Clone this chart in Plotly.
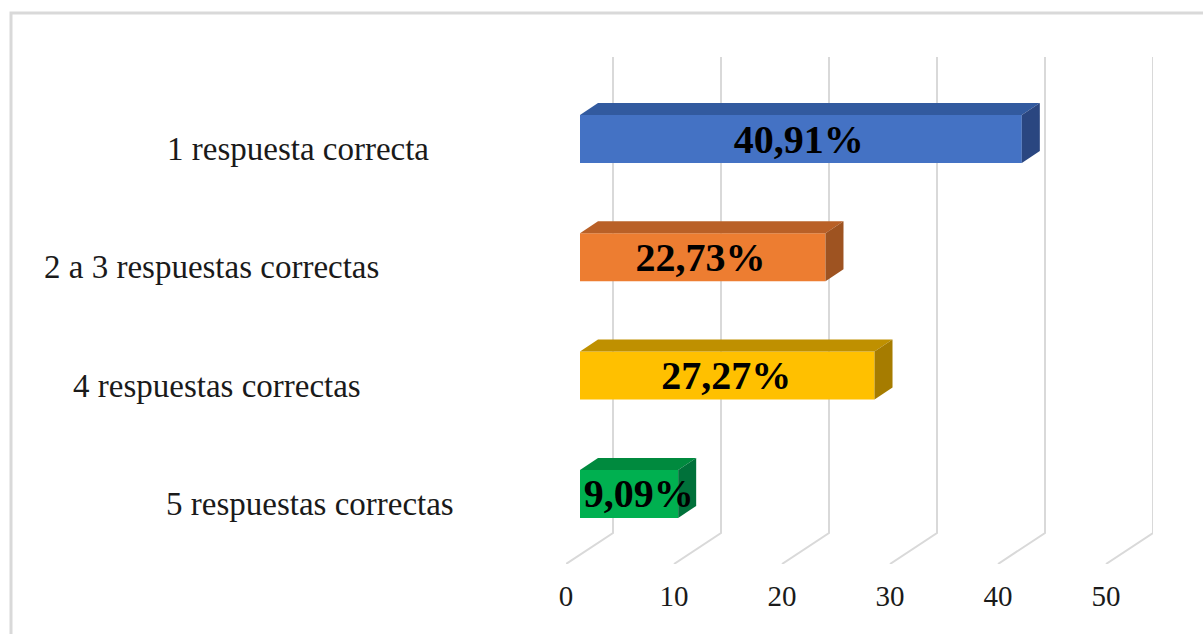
import plotly.graph_objects as go

categories = ["1 respuesta correcta", "2 a 3 respuestas correctas", "4 respuestas correctas", "5 respuestas correctas"]
values = [40.91, 22.73, 27.27, 9.09]
labels = ["40,91%", "22,73%", "27,27%", "9,09%"]
x_ticks = [0, 10, 20, 30, 40, 50]
front_colors = ["#4472C4", "#ED7D31", "#FFC000", "#00B050"]
top_colors = ["#325A9F", "#B96027", "#BF9000", "#008A3E"]
side_colors = ["#2A4680", "#9E5321", "#A67C00", "#00713A"]
category_label_px = [298, 211, 217, 310]
label_shift = [-0.2, -0.2, -0.1, 0.9]

W, H = 1203, 634
PL, PR, PT, PB = 566, 1153, 57, 564
SX = 10.8      # px per value unit
SY = 118.3     # px per category step
Y0 = 139       # px of first category
y_top = (PT - Y0) / SY
y_bot = (PB - Y0) / SY
base = 14 / SX
bw = 48 / SY
bar_dx, bar_dy = 18 / SX, 12 / SY
floor_dx, floor_dy = 47 / SX, 31 / SY
GRID = "#D9D9D9"
ypos = list(range(len(categories)))

fig = go.Figure()

for t in x_ticks:
    fig.add_shape(
        type="path", xref="x", yref="y", layer="below",
        path=f"M {t} {y_bot} L {t + floor_dx} {y_bot - floor_dy} L {t + floor_dx} {y_top}",
        line=dict(color=GRID, width=2))

for i, v in enumerate(values):
    f_top, f_bot = i - bw / 2, i + bw / 2
    x0, x1 = base, base + v
    fig.add_trace(go.Scatter(
        x=[x0, x0 + bar_dx, x1 + bar_dx, x1, x0],
        y=[f_top, f_top - bar_dy, f_top - bar_dy, f_top, f_top],
        fill="toself", fillcolor=top_colors[i], mode="lines", line=dict(width=0),
        hoverinfo="skip", showlegend=False))
    fig.add_trace(go.Scatter(
        x=[x1, x1 + bar_dx, x1 + bar_dx, x1, x1],
        y=[f_top, f_top - bar_dy, f_bot - bar_dy, f_bot, f_top],
        fill="toself", fillcolor=side_colors[i], mode="lines", line=dict(width=0),
        hoverinfo="skip", showlegend=False))

fig.add_trace(go.Bar(
    x=values, y=ypos, base=base, width=bw, orientation="h",
    marker=dict(color=front_colors, line=dict(width=0)),
    customdata=categories, hovertemplate="%{customdata}: %{x}<extra></extra>",
    showlegend=False))

fig.add_trace(go.Scatter(
    x=[base + v / 2 + s for v, s in zip(values, label_shift)], y=[p + 0.03 for p in ypos],
    text=labels, mode="text", textposition="middle center",
    textfont=dict(family="Liberation Serif", size=40, color="#000000", weight="bold"),
    hoverinfo="skip", showlegend=False, cliponaxis=False))

pw, ph = PR - PL, PB - PT
for i, c in enumerate(categories):
    fig.add_annotation(
        text=c, xref="paper", yref="y", x=(category_label_px[i] - PL) / pw, y=i + 0.085,
        xanchor="center", yanchor="middle", showarrow=False,
        font=dict(family="Liberation Serif", size=33, color="#1a1a1a"))

fx = lambda p: (p - PL) / pw
fy = lambda p: (PB - p) / ph
fig.add_shape(type="path", xref="paper", yref="paper",
              path=f"M {fx(11)} {fy(H + 2)} L {fx(11)} {fy(13)} L {fx(W + 2)} {fy(13)}",
              line=dict(color=GRID, width=3))

fig.update_layout(
    width=W, height=H, autosize=False,
    margin=dict(l=PL, r=W - PR, t=PT, b=H - PB, pad=0),
    paper_bgcolor="white", plot_bgcolor="white",
    barmode="overlay",
    xaxis=dict(range=[0, pw / SX], tickvals=x_ticks, ticktext=[str(t) for t in x_ticks],
               showgrid=False, zeroline=False, showline=False, ticks="",
               ticklabelstandoff=12,
               tickfont=dict(family="Liberation Serif", size=29, color="#1a1a1a")),
    yaxis=dict(range=[y_bot, y_top], showticklabels=False, showgrid=False,
               zeroline=False, showline=False, ticks=""),
)

fig.write_html("out.html", config={"displayModeBar": False},
               post_script="document.body.style.margin='0';document.body.style.overflow='hidden';")
